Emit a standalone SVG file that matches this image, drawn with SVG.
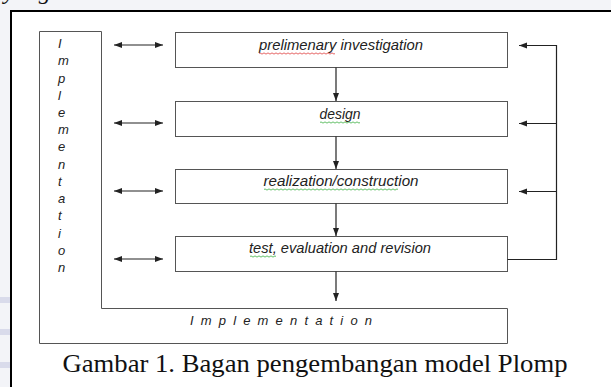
<svg xmlns="http://www.w3.org/2000/svg" width="611" height="387" viewBox="0 0 611 387">
<style>
.box{fill:none;stroke:#555;stroke-width:1}
.con{fill:none;stroke:#222;stroke-width:1.2}
.lbl{font-family:"Liberation Sans",Arial,sans-serif;font-style:italic;font-size:15px;fill:#222;text-anchor:middle}
.vl{font-family:"Liberation Sans",Arial,sans-serif;font-style:italic;font-size:13px;fill:#222}
.cap{font-family:"Liberation Serif","Times New Roman",serif;font-size:26px;fill:#111}
.sqr{fill:none;stroke:#e04040;stroke-width:0.8}
.sqg{fill:none;stroke:#3cb043;stroke-width:0.8}
</style>
<defs>
<marker id="ah" markerUnits="userSpaceOnUse" markerWidth="9" markerHeight="7" refX="8" refY="3" orient="auto-start-reverse">
<path d="M0,0 L8,3 L0,6 Z" fill="#222"/>
</marker>
</defs>
<rect x="0" y="0" width="611" height="387" fill="#f3f4f8"/>
<rect x="0" y="297" width="10" height="6" fill="#d9dbeb"/>
<rect x="0" y="329" width="10" height="6" fill="#d9dbeb"/>
<rect x="0" y="362" width="10" height="6" fill="#d9dbeb"/>
<text x="4" y="-1" font-family="Liberation Serif, serif" font-style="italic" font-size="24" fill="#111">yang</text>
<rect x="11" y="11" width="610" height="390" fill="#fff" stroke="#000" stroke-width="2"/>

<g id="implementation">
<path class="box" d="M39.5,31.5 H101.5 V308.5 H507.5 V343.5 H39.5 Z"/>
<text class="vl" x="58" y="48">I</text>
<text class="vl" x="58" y="65.2">m</text>
<text class="vl" x="58" y="82.5">p</text>
<text class="vl" x="58" y="99.7">l</text>
<text class="vl" x="58" y="116.9">e</text>
<text class="vl" x="58" y="134.2">m</text>
<text class="vl" x="58" y="151.4">e</text>
<text class="vl" x="58" y="168.6">n</text>
<text class="vl" x="58" y="185.8">t</text>
<text class="vl" x="58" y="203.1">a</text>
<text class="vl" x="58" y="220.3">t</text>
<text class="vl" x="58" y="237.5">i</text>
<text class="vl" x="58" y="254.8">o</text>
<text class="vl" x="58" y="272">n</text>
<text class="vl" x="190" y="325" textLength="182" lengthAdjust="spacing">I m p l e m e n t a t i o n</text>
</g>

<g id="prelim">
<rect class="box" x="175.5" y="32.5" width="332" height="35"/>
<text class="lbl" x="341" y="50" textLength="164" lengthAdjust="spacingAndGlyphs">prelimenary investigation</text>
<path class="sqr" d="M259,53.5 q1,-1.2 2,0 t2,0 t2,0 t2,0 t2,0 t2,0 t2,0 t2,0 t2,0 t2,0 t2,0 t2,0 t2,0 t2,0 t2,0 t2,0 t2,0 t2,0 t2,0 t2,0 t2,0 t2,0 t2,0 t2,0 t2,0 t2,0 t2,0 t2,0 t2,0 t2,0 t2,0 t2,0 t2,0 t2,0 t2,0 t2,0 t2,0 t2,0"/>
</g>

<g id="design">
<rect class="box" x="175.5" y="101.5" width="332" height="35"/>
<text class="lbl" x="340" y="119" textLength="41" lengthAdjust="spacingAndGlyphs">design</text>
<path class="sqg" d="M320,122.5 q1,-1.2 2,0 t2,0 t2,0 t2,0 t2,0 t2,0 t2,0 t2,0 t2,0 t2,0 t2,0 t2,0 t2,0 t2,0 t2,0 t2,0 t2,0 t2,0 t2,0 t2,0"/>
</g>

<g id="realization">
<rect class="box" x="175.5" y="169.5" width="332" height="34"/>
<text class="lbl" x="341" y="186" textLength="155" lengthAdjust="spacingAndGlyphs">realization/construction</text>
<path class="sqg" d="M264,189.5 q1,-1.2 2,0 t2,0 t2,0 t2,0 t2,0 t2,0 t2,0 t2,0 t2,0 t2,0 t2,0 t2,0 t2,0 t2,0 t2,0 t2,0 t2,0 t2,0 t2,0 t2,0 t2,0 t2,0 t2,0 t2,0 t2,0 t2,0 t2,0 t2,0 t2,0 t2,0 t2,0 t2,0 t2,0 t2,0 t2,0 t2,0 t2,0 t2,0 t2,0 t2,0 t2,0 t2,0 t2,0 t2,0 t2,0 t2,0 t2,0 t2,0 t2,0 t2,0 t2,0 t2,0 t2,0 t2,0 t2,0 t2,0 t2,0 t2,0 t2,0 t2,0 t2,0 t2,0 t2,0 t2,0 t2,0 t2,0 t2,0"/>
</g>

<g id="test">
<rect class="box" x="175.5" y="236.5" width="332" height="35"/>
<text class="lbl" x="340" y="253" textLength="182" lengthAdjust="spacingAndGlyphs">test, evaluation and revision</text>
<path class="sqg" d="M250,256.5 q1,-1.2 2,0 t2,0 t2,0 t2,0 t2,0 t2,0 t2,0 t2,0 t2,0 t2,0 t2,0 t2,0 t2,0"/>
</g>

<g id="connectors">
<line class="con" x1="336" y1="67.5" x2="336" y2="101" marker-end="url(#ah)"/>
<line class="con" x1="336" y1="136.5" x2="336" y2="169" marker-end="url(#ah)"/>
<line class="con" x1="336" y1="203.5" x2="336" y2="236" marker-end="url(#ah)"/>
<line class="con" x1="336" y1="271.5" x2="336" y2="301" marker-end="url(#ah)"/>
<line class="con" x1="114" y1="45" x2="163" y2="45" marker-start="url(#ah)" marker-end="url(#ah)"/>
<line class="con" x1="114" y1="123" x2="163" y2="123" marker-start="url(#ah)" marker-end="url(#ah)"/>
<line class="con" x1="114" y1="191" x2="163" y2="191" marker-start="url(#ah)" marker-end="url(#ah)"/>
<line class="con" x1="114" y1="259" x2="163" y2="259" marker-start="url(#ah)" marker-end="url(#ah)"/>
<path class="con" d="M507.5,259.5 H556.5 V45.5 H519" marker-end="url(#ah)"/>
<line class="con" x1="556.5" y1="123.5" x2="519" y2="123.5" marker-end="url(#ah)"/>
<line class="con" x1="556.5" y1="191.5" x2="519" y2="191.5" marker-end="url(#ah)"/>
</g>

<text class="cap" x="62.5" y="372" textLength="505" lengthAdjust="spacingAndGlyphs">Gambar 1. Bagan pengembangan model Plomp</text>
</svg>
